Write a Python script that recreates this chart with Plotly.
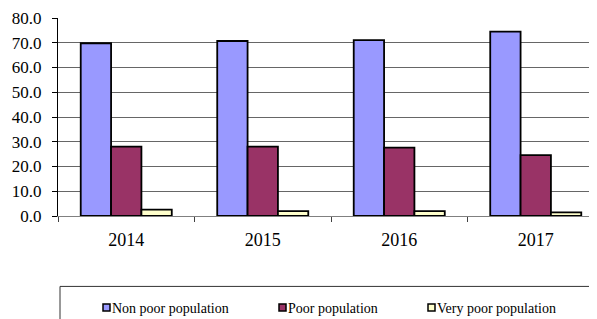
import plotly.graph_objects as go

years = ["2014", "2015", "2016", "2017"]
non_poor = [69.8, 70.7, 71.1, 74.5]
poor = [28.0, 28.0, 27.6, 24.6]
very_poor = [2.6, 2.0, 2.0, 1.5]
series_names = ["Non poor population", "Poor population", "Very poor population"]
colors = ["#9999FF", "#993366", "#FFFFCC"]
y_ticks = [0, 10, 20, 30, 40, 50, 60, 70, 80]

# page body has an 8px margin; figure is sized to end at the window edge
OFF = 8
W, H = 597 - OFF, 319 - OFF
ml, mt = 58 - OFF, 18 - OFF
plot_bottom = 215.7 - OFF
mb = H - plot_bottom
plot_h = plot_bottom - mt
plot_w = W - ml

def px_x(X):
    return (X - OFF - ml) / plot_w

def px_y(Y):
    return (plot_bottom - (Y - OFF)) / plot_h

fig = go.Figure()
for i, (name, vals) in enumerate(zip(series_names, [non_poor, poor, very_poor])):
    fig.add_trace(go.Bar(
        x=years, y=vals, name=name,
        marker=dict(color=colors[i], line=dict(color="black", width=1.8)),
        showlegend=False,
    ))

serif = "Liberation Serif"

# legend (drawn manually to match the spreadsheet-style legend box)
legend_sq_x = [103, 279, 428]
sq_top, sq_bot = 303.5, 310.5
shapes = [dict(
    type="rect", xref="paper", yref="paper",
    x0=px_x(60), x1=px_x(610), y0=px_y(340), y1=px_y(286),
    line=dict(color="#333333", width=1), fillcolor="rgba(0,0,0,0)",
)]
annotations = []
for i, sx in enumerate(legend_sq_x):
    shapes.append(dict(
        type="rect", xref="paper", yref="paper",
        x0=px_x(sx), x1=px_x(sx + 7), y0=px_y(sq_bot), y1=px_y(sq_top),
        line=dict(color="black", width=1.5), fillcolor=colors[i],
    ))
    annotations.append(dict(
        text=series_names[i], xref="paper", yref="paper",
        x=px_x(sx + 7), y=px_y(308), xanchor="left", yanchor="middle",
        showarrow=False, font=dict(family=serif, size=14, color="black"),
    ))

cat_px = 136.5
x_right = -0.5 + plot_w / cat_px

fig.update_layout(
    width=W, height=H,
    margin=dict(l=ml, r=0, t=mt, b=mb, pad=0, autoexpand=False),
    paper_bgcolor="white", plot_bgcolor="white",
    barmode="group", bargap=0.333, bargroupgap=0,
    font=dict(family=serif, size=17, color="black"),
    showlegend=False,
    xaxis=dict(
        range=[-0.5, x_right], type="category",
        showline=True, linecolor="#808080", linewidth=1,
        ticks="outside", tickson="boundaries", ticklen=5, tickcolor="#404040",
        showgrid=False, ticklabelstandoff=7,
        tickfont=dict(family=serif, size=18, color="black"),
    ),
    yaxis=dict(
        range=[0, 80], tickvals=y_ticks, tickformat=".1f",
        showline=True, linecolor="black", linewidth=1,
        ticks="outside", ticklen=5, tickcolor="black",
        showgrid=True, gridcolor="#666666", gridwidth=1,
        zeroline=False, ticklabelstandoff=7,
        tickfont=dict(family=serif, size=17, color="black"),
    ),
    shapes=shapes,
    annotations=annotations,
)

fig.write_html("out.html")
